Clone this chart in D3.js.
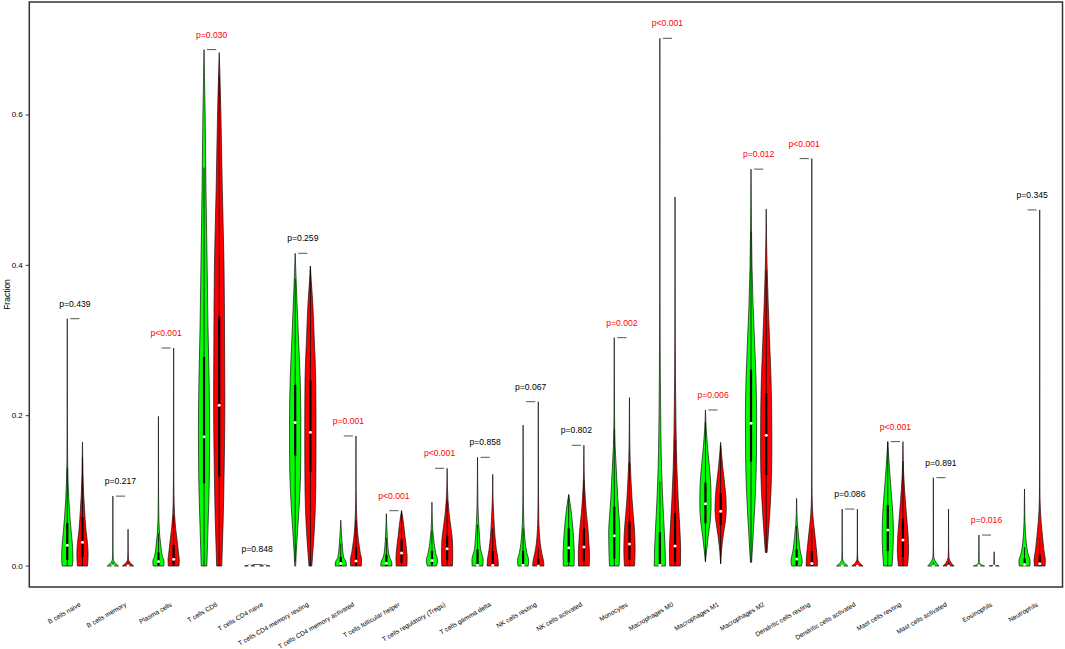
<!DOCTYPE html>
<html>
<head>
<meta charset="utf-8">
<script src="https://cdn.jsdelivr.net/npm/d3@7"></script>
<style>
  html, body { margin: 0; padding: 0; background: #fff; }
  svg { display: block; font-family: "Liberation Sans", Arial, sans-serif; }
</style>
</head>
<body>
<svg id="chart" width="1065" height="649"></svg>
<script>
// ---------------- data ----------------
const cellTypes = ["B cells naive","B cells memory","Plasma cells","T cells CD8","T cells CD4 naive",
  "T cells CD4 memory resting","T cells CD4 memory activated","T cells follicular helper",
  "T cells regulatory (Tregs)","T cells gamma delta","NK cells resting","NK cells activated",
  "Monocytes","Macrophages M0","Macrophages M1","Macrophages M2","Dendritic cells resting",
  "Dendritic cells activated","Mast cells resting","Mast cells activated","Eosinophils","Neutrophils"];

const pLabels = ["p=0.439","p=0.217","p<0.001","p=0.030","p=0.848","p=0.259","p=0.001","p<0.001",
  "p<0.001","p=0.858","p=0.067","p=0.802","p=0.002","p<0.001","p=0.006","p=0.012","p<0.001",
  "p=0.086","p<0.001","p=0.891","p=0.016","p=0.345"];

const yTicks = [0.0, 0.2, 0.4, 0.6];

// box statistics (normal = green, tumor = red)
const normalQ1     = [0.008,0,0.001,0.11,0,0.147,0,0,0.002,0,0,0.005,0.01,0,0.057,0.139,0.001,0,0.02,0,0,0];
const normalMedian = [0.0275,0.0005,0.006,0.172,0,0.191,0.0035,0.0036,0.0075,0.001,0.001,0.0244,0.0403,0.001,0.083,0.19,0.0093,0,0.048,0,0,0.002];
const normalQ3     = [0.057,0.002,0.018,0.278,0,0.241,0.012,0.015,0.02,0.022,0.02,0.05,0.079,0.045,0.111,0.261,0.022,0.001,0.081,0.002,0,0.01];
const tumorQ1      = [0.012,0,0.002,0.119,0,0.125,0.001,0.004,0.008,0,0,0.007,0.008,0.005,0.0546,0.121,0,0,0.012,0,0,0];
const tumorMedian  = [0.0315,0.0005,0.009,0.214,0,0.178,0.0067,0.0173,0.023,0.001,0,0.0253,0.0293,0.0266,0.073,0.174,0.0035,0,0.0346,0,0,0.003];
const tumorQ3      = [0.065,0.002,0.028,0.332,0,0.247,0.025,0.035,0.04,0.02,0.01,0.05,0.06,0.07,0.097,0.23,0.02,0.001,0.063,0.002,0,0.015];

// violin outlines: [fraction, relative half-width]
const normalDensity = [
  [[0,0.9],[0.01,1],[0.025,0.95],[0.045,0.7],[0.065,0.48],[0.088,0.28],[0.11,0.15],[0.14,0.06],[0.2,0.02],[0.329,0]],
  [[0,1],[0.002,0.7],[0.005,0.3],[0.009,0.08],[0.02,0.02],[0.093,0]],
  [[0,0.95],[0.006,1],[0.013,0.7],[0.03,0.38],[0.048,0.15],[0.07,0.06],[0.1,0.02],[0.199,0]],
  [[0,0.5],[0.05,0.7],[0.12,0.95],[0.18,1],[0.25,0.9],[0.32,0.7],[0.4,0.55],[0.5,0.35],[0.6,0.2],[0.65,0.08],[0.687,0]],
  [[0,0.9],[0.001,0.3],[0.0015,0]],
  [[0,0.08],[0.02,0.2],[0.05,0.45],[0.1,0.85],[0.15,1],[0.2,1],[0.25,0.88],[0.3,0.6],[0.35,0.33],[0.39,0.12],[0.416,0]],
  [[0,1],[0.005,0.95],[0.012,0.5],[0.025,0.3],[0.04,0.15],[0.05,0.07],[0.061,0]],
  [[0,1],[0.005,0.95],[0.012,0.55],[0.025,0.28],[0.04,0.15],[0.055,0.06],[0.0696,0]],
  [[0,0.8],[0.007,1],[0.018,0.65],[0.03,0.4],[0.045,0.18],[0.06,0.07],[0.085,0]],
  [[0,0.95],[0.008,1],[0.022,0.55],[0.04,0.35],[0.06,0.18],[0.08,0.08],[0.1446,0]],
  [[0,0.9],[0.007,1],[0.018,0.65],[0.03,0.4],[0.045,0.22],[0.065,0.1],[0.1,0.03],[0.1876,0]],
  [[0,0.95],[0.015,1],[0.03,0.92],[0.045,0.8],[0.06,0.62],[0.075,0.4],[0.088,0.15],[0.095,0]],
  [[0,0.85],[0.02,0.95],[0.045,1],[0.07,0.8],[0.09,0.62],[0.11,0.48],[0.13,0.35],[0.16,0.15],[0.2,0.05],[0.3038,0]],
  [[0,1],[0.02,0.95],[0.045,0.8],[0.09,0.5],[0.13,0.3],[0.18,0.18],[0.25,0.08],[0.35,0.03],[0.702,0]],
  [[0.0057,0],[0.02,0.2],[0.04,0.5],[0.06,0.85],[0.08,1],[0.1,0.98],[0.12,0.85],[0.14,0.6],[0.16,0.35],[0.18,0.15],[0.2076,0]],
  [[0.005,0.1],[0.05,0.45],[0.1,0.8],[0.15,0.97],[0.2,1],[0.25,0.88],[0.3,0.62],[0.35,0.35],[0.4,0.17],[0.45,0.08],[0.528,0]],
  [[0,0.85],[0.006,1],[0.02,0.65],[0.038,0.37],[0.055,0.15],[0.07,0.05],[0.09,0]],
  [[0,1],[0.002,0.7],[0.005,0.3],[0.009,0.08],[0.02,0.02],[0.0758,0]],
  [[0,0.75],[0.02,0.92],[0.045,1],[0.07,0.9],[0.1,0.6],[0.13,0.3],[0.15,0.12],[0.1655,0]],
  [[0,1],[0.003,0.65],[0.007,0.3],[0.012,0.08],[0.025,0.02],[0.1175,0]],
  [[0,1],[0.001,0.6],[0.003,0.2],[0.006,0.05],[0.0412,0]],
  [[0,0.95],[0.006,1],[0.017,0.6],[0.03,0.33],[0.048,0.14],[0.07,0.05],[0.1025,0]]
];
const tumorDensity = [
  [[0,0.9],[0.015,1],[0.03,0.9],[0.048,0.62],[0.075,0.37],[0.097,0.2],[0.125,0.08],[0.165,0]],
  [[0,1],[0.002,0.7],[0.005,0.3],[0.009,0.08],[0.02,0.02],[0.049,0]],
  [[0,0.95],[0.008,1],[0.015,0.9],[0.035,0.6],[0.052,0.33],[0.07,0.15],[0.095,0.06],[0.13,0.02],[0.29,0]],
  [[0,0.45],[0.06,0.7],[0.14,0.9],[0.22,1],[0.3,0.95],[0.4,0.85],[0.5,0.55],[0.6,0.3],[0.66,0.1],[0.683,0]],
  [[0,0.9],[0.001,0.3],[0.002,0]],
  [[0,0.25],[0.02,0.45],[0.05,0.72],[0.1,0.95],[0.15,1],[0.2,1],[0.25,0.95],[0.3,0.7],[0.35,0.42],[0.38,0.15],[0.399,0]],
  [[0,0.95],[0.008,1],[0.018,0.75],[0.035,0.42],[0.054,0.2],[0.075,0.08],[0.1,0.03],[0.173,0]],
  [[0,0.95],[0.01,1],[0.023,0.88],[0.04,0.6],[0.055,0.38],[0.065,0.2],[0.0736,0]],
  [[0,0.95],[0.015,1],[0.035,0.93],[0.052,0.65],[0.07,0.35],[0.088,0.15],[0.105,0.05],[0.13,0]],
  [[0,1],[0.008,0.95],[0.022,0.65],[0.04,0.4],[0.065,0.2],[0.085,0.08],[0.122,0]],
  [[0,1],[0.008,0.9],[0.016,0.65],[0.03,0.35],[0.045,0.18],[0.065,0.08],[0.1,0.03],[0.2186,0]],
  [[0,0.95],[0.015,1],[0.03,0.9],[0.045,0.78],[0.07,0.45],[0.09,0.25],[0.11,0.1],[0.13,0.04],[0.1606,0]],
  [[0,0.9],[0.02,1],[0.045,0.92],[0.07,0.65],[0.09,0.45],[0.11,0.3],[0.14,0.12],[0.18,0.04],[0.224,0]],
  [[0,0.95],[0.02,1],[0.045,0.88],[0.09,0.55],[0.13,0.33],[0.18,0.18],[0.25,0.07],[0.35,0.02],[0.491,0]],
  [[0.003,0],[0.02,0.15],[0.04,0.45],[0.06,0.85],[0.075,1],[0.09,0.95],[0.11,0.7],[0.13,0.4],[0.15,0.15],[0.1646,0]],
  [[0.018,0.15],[0.05,0.45],[0.1,0.85],[0.15,1],[0.2,0.98],[0.25,0.85],[0.3,0.6],[0.35,0.35],[0.4,0.15],[0.44,0.05],[0.475,0]],
  [[0,1],[0.008,0.98],[0.025,0.78],[0.045,0.5],[0.06,0.28],[0.08,0.1],[0.11,0.03],[0.15,0.01],[0.542,0]],
  [[0,1],[0.002,0.7],[0.005,0.3],[0.009,0.08],[0.02,0.02],[0.0758,0]],
  [[0,0.8],[0.02,1],[0.04,0.92],[0.07,0.6],[0.1,0.3],[0.12,0.14],[0.14,0.05],[0.1655,0]],
  [[0,1],[0.003,0.6],[0.007,0.25],[0.012,0.07],[0.025,0.02],[0.0758,0]],
  [[0,0.9],[0.0008,0.3],[0.002,0.05],[0.019,0]],
  [[0,0.95],[0.008,1],[0.021,0.75],[0.039,0.5],[0.057,0.27],[0.075,0.12],[0.1,0.04],[0.15,0.01],[0.4737,0]]
];

// ---------------- drawing ----------------
const svg = d3.select("#chart");
const frame = {left: 29.3, right: 1062.5, top: 2, bottom: 587};

const x = d3.scaleLinear().domain([-2.5, 65.5]).range([frame.left, frame.right]);
const y = d3.scaleLinear().domain([-0.0279, 0.7503]).range([frame.bottom, frame.top]);

const halfPx = x(0.37) - x(0);
const boxHalf = 1.1;

function drawViolin(g, pos, knots, q1, med, q3, color) {
  const cx = x(pos);
  const area = d3.area()
    .y(d => y(d[0]))
    .x0(d => cx - d[1] * halfPx)
    .x1(d => cx + d[1] * halfPx)
    .curve(d3.curveMonotoneY);
  g.append("path")
    .attr("d", area(knots))
    .attr("fill", color)
    .attr("stroke", "#111")
    .attr("stroke-width", 0.7)
    .attr("stroke-linejoin", "round");
  const vmin = knots[0][0], vmax = knots[knots.length - 1][0];
  const iqr = q3 - q1;
  const lo = Math.max(vmin, q1 - 1.5 * iqr), hi = Math.min(vmax, q3 + 1.5 * iqr);
  g.append("line")
    .attr("x1", cx).attr("x2", cx)
    .attr("y1", y(lo)).attr("y2", y(hi))
    .attr("stroke", "#000").attr("stroke-width", 0.8);
  g.append("rect")
    .attr("x", cx - boxHalf).attr("width", boxHalf * 2)
    .attr("y", y(q3)).attr("height", Math.max(0.5, y(q1) - y(q3)))
    .attr("fill", "#000");
  g.append("circle")
    .attr("cx", cx).attr("cy", y(med)).attr("r", 1.5)
    .attr("fill", "#fff");
}

const gv = svg.append("g");
cellTypes.forEach((name, i) => {
  const gpos = 3 * i, tpos = 3 * i + 1;
  drawViolin(gv, gpos, normalDensity[i], normalQ1[i], normalMedian[i], normalQ3[i], "#00ff00");
  drawViolin(gv, tpos, tumorDensity[i], tumorQ1[i], tumorMedian[i], tumorQ3[i], "#ff0000");

  const nMax = normalDensity[i][normalDensity[i].length - 1][0];
  const tMax = tumorDensity[i][tumorDensity[i].length - 1][0];
  const mx = Math.max(nMax, tMax);
  gv.append("line")
    .attr("x1", x(gpos + 0.2)).attr("x2", x(gpos + 0.8))
    .attr("y1", y(mx)).attr("y2", y(mx))
    .attr("stroke", "#555").attr("stroke-width", 1);

  const pv = parseFloat(pLabels[i].slice(2));
  gv.append("text")
    .attr("x", x(gpos + 0.5)).attr("y", y(mx + 0.02))
    .attr("text-anchor", "middle").attr("dominant-baseline", "central")
    .attr("font-size", 8.6)
    .attr("fill", pv < 0.05 ? "#ff0000" : "#000")
    .text(pLabels[i]);

  const lx = x(tpos) - 2.5, ly = y(-0.05);
  svg.append("text")
    .attr("transform", `translate(${lx},${ly}) rotate(-30)`)
    .attr("text-anchor", "end").attr("dominant-baseline", "central")
    .attr("font-size", 6.5)
    .attr("fill", "#000")
    .text(name);
});

// y axis
const yAxis = svg.append("g");
yTicks.forEach(t => {
  yAxis.append("line")
    .attr("x1", frame.left - 3.5).attr("x2", frame.left)
    .attr("y1", y(t)).attr("y2", y(t))
    .attr("stroke", "#333").attr("stroke-width", 1);
  yAxis.append("text")
    .attr("x", frame.left - 6.5).attr("y", y(t))
    .attr("text-anchor", "end").attr("dominant-baseline", "central")
    .attr("font-size", 8).attr("fill", "#000")
    .text(d3.format(".1f")(t));
});
svg.append("text")
  .attr("transform", `translate(7,${(frame.top + frame.bottom) / 2}) rotate(-90)`)
  .attr("text-anchor", "middle").attr("dominant-baseline", "central")
  .attr("font-size", 8.5).attr("fill", "#000")
  .text("Fraction");

// frame
svg.append("rect")
  .attr("x", frame.left).attr("y", frame.top)
  .attr("width", frame.right - frame.left).attr("height", frame.bottom - frame.top)
  .attr("fill", "none").attr("stroke", "#333").attr("stroke-width", 1.5);
</script>
</body>
</html>
